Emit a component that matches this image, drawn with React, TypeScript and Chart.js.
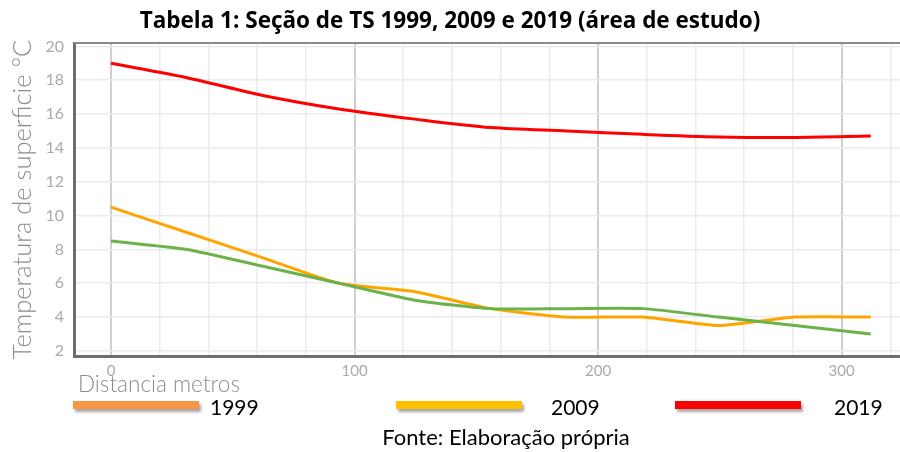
import React, { useEffect, useRef } from "react";
import { Chart, registerables } from "chart.js";

Chart.register(...registerables);

const distances = [0, 31.2, 62.4, 93.6, 124.8, 156, 187.2, 218.4, 249.6, 280.8, 312];
const ts1999 = [8.5, 8.0, 7.0, 6.0, 5.0, 4.5, 4.5, 4.5, 4.0, 3.5, 3.0];
const ts2009 = [10.5, 9.0, 7.5, 6.0, 5.5, 4.5, 4.0, 4.0, 3.5, 4.0, 4.0];
const ts2019 = [19.0, 18.15, 17.1, 16.3, 15.7, 15.2, 15.0, 14.8, 14.65, 14.62, 14.7];
const xTicks = [0, 20, 40, 60, 80, 100, 120, 140, 160, 180, 200, 220, 240, 260, 280, 300, 320];
const xLabeled = [0, 100, 200, 300];
const yTicks = [2, 4, 6, 8, 10, 12, 14, 16, 18, 20];
const legendItems = [
  { label: "1999", color: "#f79646" },
  { label: "2009", color: "#ffc000" },
  { label: "2019", color: "#ff0000" },
];

const FONT = "Lato, 'Open Sans', sans-serif";

const topBorder = {
  id: "topBorder",
  afterDraw(chart: any) {
    const { ctx, chartArea } = chart;
    ctx.save();
    ctx.strokeStyle = "#8a8a8a";
    ctx.lineWidth = 2;
    ctx.beginPath();
    ctx.moveTo(chartArea.left, chartArea.top);
    ctx.lineTo(chartArea.right, chartArea.top);
    ctx.stroke();
    ctx.restore();
  },
};

export default function App() {
  const ref = useRef<HTMLCanvasElement>(null);
  useEffect(() => {
    const pts = (ys: number[]) => ys.map((y, i) => ({ x: distances[i], y }));
    const chart = new Chart(ref.current as HTMLCanvasElement, {
      type: "line",
      data: {
        datasets: [
          { label: "1999", data: pts(ts1999), borderColor: "#6cb24a", borderWidth: 3, pointRadius: 0, tension: 0.2 },
          { label: "2009", data: pts(ts2009), borderColor: "#ffa500", borderWidth: 3, pointRadius: 0, tension: 0.2 },
          { label: "2019", data: pts(ts2019), borderColor: "#ff0000", borderWidth: 3, pointRadius: 0, tension: 0.3 },
        ],
      },
      options: {
        animation: false,
        responsive: false,
        layout: { padding: 0 },
        plugins: {
          legend: { display: false },
          tooltip: { enabled: false },
          title: {
            display: true,
            text: "Tabela 1: Seção de TS 1999, 2009 e 2019 (área de estudo)",
            color: "#000",
            font: { family: "'Open Sans', Lato, sans-serif", size: 22.5, weight: "bold", lineHeight: 1.2 },
            padding: { top: 8, bottom: 8 },
          },
        },
        scales: {
          x: {
            type: "linear",
            min: -15.2,
            max: 324,
            afterBuildTicks: (s: any) => {
              s.ticks = xTicks.map((v) => ({ value: v }));
            },
            afterFit: (s: any) => {
              s.height = 96;
            },
            ticks: {
              color: "#aaaaaa",
              font: { family: FONT, size: 15 },
              padding: 6,
              maxRotation: 0,
              autoSkip: false,
              callback: (v: any) => (xLabeled.includes(Number(v)) ? String(v) : ""),
            },
            grid: {
              drawTicks: false,
              color: (c: any) => (c.tick && xLabeled.includes(c.tick.value) ? "#cfcfcf" : "#ebebeb"),
              lineWidth: (c: any) => (c.tick && xLabeled.includes(c.tick.value) ? 2 : 1.5),
            },
            border: { color: "#6e6e6e", width: 3 },
          },
          y: {
            min: 1.7,
            max: 20.2,
            afterBuildTicks: (s: any) => {
              s.ticks = yTicks.map((v) => ({ value: v }));
            },
            afterFit: (s: any) => {
              s.width = 74;
            },
            ticks: {
              color: "#aaaaaa",
              font: { family: FONT, size: 16 },
              padding: 10,
            },
            grid: { drawTicks: false, color: "#ebebeb", lineWidth: 1.5 },
            border: { color: "#6e6e6e", width: 3 },
            title: {
              display: true,
              text: "Temperatura de superficie °C",
              color: "#8c8c8c",
              font: { family: FONT, size: 25.5, weight: 300, lineHeight: 1.2 },
              padding: { top: 7, bottom: 0 },
            },
          },
        },
      },
      plugins: [topBorder],
    });
    return () => chart.destroy();
  }, []);

  const legendPos = [
    { bar: 73, text: 210 },
    { bar: 396, text: 551 },
    { bar: 675, text: 834 },
  ];

  return (
    <div style={{ position: "fixed", left: 0, top: 0, width: 900, height: 452, background: "#fff", overflow: "hidden", fontFamily: FONT }}>
      <canvas ref={ref} width={900} height={452} style={{ position: "absolute", left: 0, top: 0 }} />
      <div style={{ position: "absolute", left: 78, top: 370, fontSize: 22.5, color: "#8c8c8c", lineHeight: "28px", fontWeight: 300 }}>Distancia metros</div>
      {legendItems.map((it, i) => (
        <React.Fragment key={it.label}>
          <div
            style={{
              position: "absolute",
              left: legendPos[i].bar,
              top: 401,
              width: 126,
              height: 8,
              background: it.color,
              boxShadow: "2px 3px 3px rgba(0,0,0,0.35)",
            }}
          />
          <div style={{ position: "absolute", left: legendPos[i].text, top: 394, fontSize: 21, color: "#000", lineHeight: "26px" }}>
            {it.label}
          </div>
        </React.Fragment>
      ))}
      <div style={{ position: "absolute", left: 0, width: 1012, top: 423, fontSize: 22, color: "#000", textAlign: "center", lineHeight: "28px" }}>
        Fonte: Elaboração própria
      </div>
    </div>
  );
}
